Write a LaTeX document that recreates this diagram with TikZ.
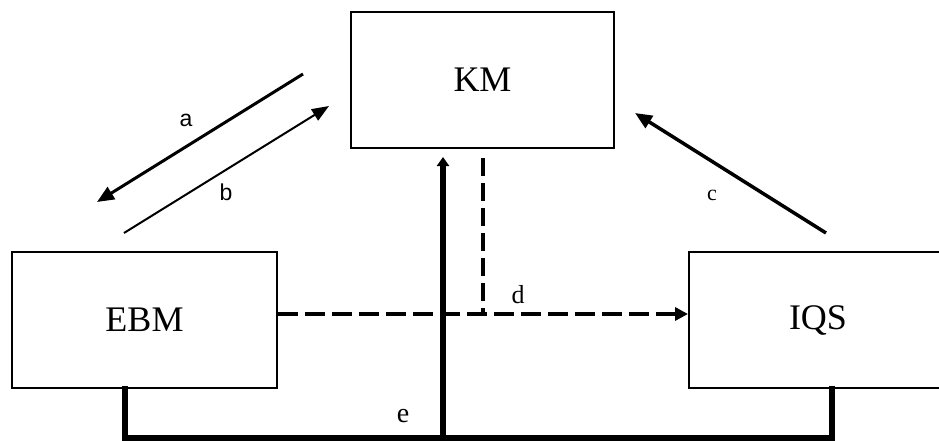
\documentclass[tikz,border=0pt]{standalone}
\usepackage{fontspec}
\setmainfont{Liberation Serif}
\newfontfamily\labelsans{Liberation Sans}
\usetikzlibrary{arrows.meta}
\begin{document}
\begin{tikzpicture}[x=1pt,y=-1pt,
  modelbox/.style={draw=black, line width=2pt, inner sep=0pt, minimum width=#1,
    minimum height=136pt, font=\fontsize{36}{40}\selectfont},
  flowline/.style={line width=#1, draw=black},
  serifletter/.style={inner sep=0pt, font=\fontsize{#1}{#1}\selectfont},
  sansletter/.style={inner sep=0pt, font=\labelsans\fontsize{23}{23}\selectfont},
  dashline/.style={line width=4pt, dash pattern=on 20pt off 7pt}]
\useasboundingbox (0,0) rectangle (939,441);
\clip (0,0) rectangle (939,441);

% the three model boxes
\node[modelbox=263pt] (KM)  at (482.5,80)  {KM};
\node[modelbox=265pt] (EBM) at (144.5,319.5) {EBM};
\node[modelbox=258pt] (IQS) at (818,320)   {IQS};

% free ends of the slanted arrows
\coordinate (aS) at (303,74);  \coordinate (aE) at (97,202);
\coordinate (bS) at (124,233); \coordinate (bE) at (329,106);
\coordinate (cS) at (826,233); \coordinate (cE) at (635,113);

% a: KM -> EBM, b: EBM -> KM, c: IQS -> KM
\draw[flowline=3pt, -{Triangle[length=17pt,width=14pt]}] (aS) -- (aE);
\draw[flowline=2pt, -{Triangle[length=17pt,width=13pt]}] (bS) -- (bE);
\draw[flowline=3.5pt, -{Triangle[length=17pt,width=14pt]}] (cS) -- (cE);

% e: joint link from EBM and IQS up into KM
\coordinate (eL) at (125,438);
\coordinate (eR) at (832,438);
\coordinate (eM) at (443,438);
\coordinate (eTop) at (443,157);
\draw[flowline=6pt, line join=miter, line cap=rect]
  (EBM.south -| eL) -- (eL) -- (eR) -- (IQS.south -| eR);
\draw[flowline=6pt, -{Triangle[length=9pt,width=12pt]}] (eM) -- (eTop);

% d: dashed link EBM -> IQS, with the dashed branch from KM
\coordinate (dY) at (0,314);
\coordinate (dV) at (483,158);
\draw[dashline, -{Triangle[length=13pt,width=13pt]}]
  (EBM.east |- dY) -- (IQS.west |- dY);
\draw[line width=4pt, dash pattern=on 18pt off 7pt] (dV) -- (dV |- dY);

% link labels
\node[sansletter] (la) at (186,120) {a};
\node[sansletter] (lb) at (226,192.5) {b};
\node[serifletter=22] (lc) at (712,195) {c};
\node[serifletter=26] (ld) at (518,295) {d};
\node[serifletter=28] (le) at (403,416) {e};
\end{tikzpicture}
\end{document}
